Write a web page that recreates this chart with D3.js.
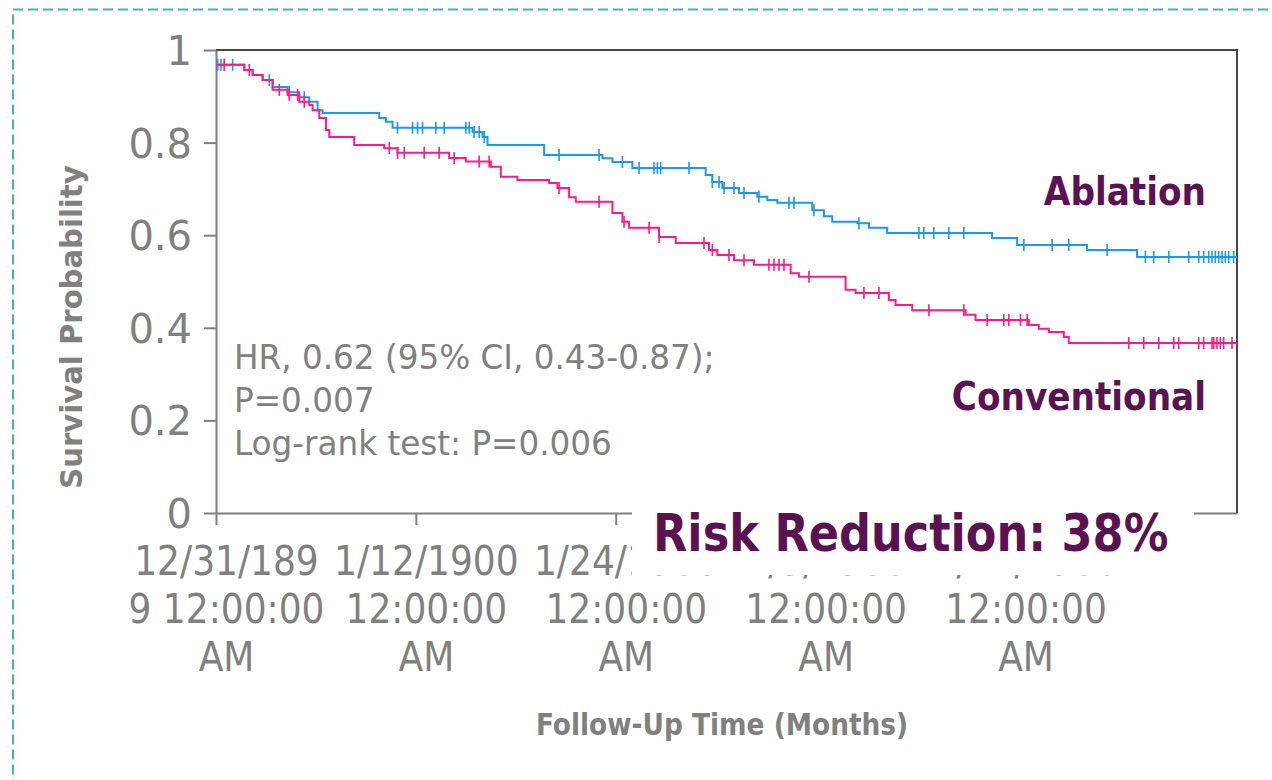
<!DOCTYPE html>
<html lang="en">
<head>
  <meta charset="UTF-8">
  <title>Survival Probability</title>
  <style>
    body { margin: 0; background: #fff; }
    svg text { font-family: "DejaVu Sans", Verdana, sans-serif; }
  </style>
</head>
<body>
  <div id="chart"></div>

  <script src="https://cdn.jsdelivr.net/npm/d3@7"></script>
  <script>

    // [month, survival] at each drop of the Kaplan-Meier curve
    const ablationSteps = [
      [0, 0.968], [1.7, 0.957], [2.2, 0.946], [2.8, 0.935], [3.4, 0.920],
      [4.3, 0.909], [5.0, 0.898], [5.6, 0.888], [6.1, 0.870], [6.4, 0.864],
      [9.8, 0.853], [10.2, 0.845], [10.6, 0.832], [15.4, 0.823], [16.0, 0.812],
      [16.3, 0.795], [19.7, 0.773], [23.2, 0.766], [23.8, 0.758], [25.0, 0.745],
      [29.4, 0.730], [29.8, 0.715], [30.4, 0.702], [31.4, 0.691], [32.5, 0.683],
      [33.1, 0.676], [33.7, 0.670], [35.8, 0.654], [36.5, 0.641], [37.0, 0.629],
      [38.5, 0.626], [39.2, 0.616], [40.3, 0.605], [46.6, 0.594], [48.1, 0.579],
      [52.3, 0.568], [55.3, 0.553]
    ];

    const conventionalSteps = [
      [0, 0.968], [1.7, 0.957], [2.2, 0.946], [2.8, 0.935], [3.4, 0.914],
      [4.3, 0.903], [5.0, 0.888], [5.6, 0.881], [5.8, 0.870], [6.2, 0.853],
      [6.6, 0.827], [6.8, 0.812], [8.3, 0.795], [10.1, 0.788], [10.9, 0.778],
      [14.0, 0.767], [15.0, 0.759], [16.5, 0.748], [17.1, 0.726], [18.1, 0.719],
      [20.0, 0.713], [20.5, 0.702], [21.2, 0.682], [21.6, 0.672], [23.8, 0.648],
      [24.4, 0.629], [24.8, 0.616], [26.6, 0.596], [27.6, 0.583], [29.6, 0.568],
      [30.1, 0.557], [31.1, 0.546], [32.3, 0.536], [34.5, 0.518], [35.0, 0.510],
      [37.8, 0.482], [38.4, 0.475], [40.4, 0.460], [40.8, 0.449], [41.8, 0.438],
      [45.0, 0.428], [45.6, 0.417], [48.8, 0.406], [49.4, 0.398], [50.0, 0.391],
      [50.9, 0.380], [51.2, 0.367]
    ];

    // censored observations (months)
    const ablationCensored = [
      0.1, 0.3, 0.5, 1.0, 3.2, 4.4, 5.3, 10.9, 11.8, 12.1, 12.4, 13.2, 13.7,
      15.0, 15.2, 15.5, 15.8, 16.1, 20.6, 23.0, 24.4, 25.4, 26.3, 26.5, 26.7,
      28.4, 29.8, 30.2, 30.5, 31.1, 31.7, 32.6, 34.4, 34.7, 35.9, 38.6, 42.2,
      42.5, 43.1, 44.0, 44.9, 48.5, 50.2, 51.2, 53.5, 55.8, 56.3, 57.2, 58.4,
      59.0, 59.3, 59.6, 59.8, 60.0, 60.2, 60.4, 60.6, 60.8, 61.1
    ];

    const conventionalCensored = [
      0.5, 2.0, 3.8, 4.4, 4.9, 5.3, 10.4, 10.9, 11.3, 12.5, 13.4, 14.3, 15.8,
      16.4, 20.6, 23.0, 24.5, 26.0, 26.6, 29.3, 29.8, 30.8, 31.7, 33.2, 33.5,
      33.8, 34.1, 35.6, 38.9, 39.8, 42.8, 44.9, 46.3, 47.3, 47.6, 48.3, 48.7,
      54.8, 55.7, 56.6, 57.5, 57.8, 59.0, 59.3, 59.8, 59.9, 60.1, 60.3, 60.5, 61.0
    ];

    const maxMonth = 61.3;
    const yTicks = [0, 0.2, 0.4, 0.6, 0.8, 1];
    const xTicks = [0, 12, 24, 36, 48];
    // Excel showed the month values as dates, wrapped on three lines
    const xTickLabels = [
      ["12/31/189", "9 12:00:00", "AM"],
      ["1/12/1900", "12:00:00", "AM"],
      ["1/24/1900", "12:00:00", "AM"],
      ["2/5/1900", "12:00:00", "AM"],
      ["2/17/1900", "12:00:00", "AM"]
    ];
    const statsLines = [
      "HR, 0.62 (95% CI, 0.43-0.87);",
      "P=0.007",
      "Log-rank test: P=0.006"
    ];

    const width = 1272,
          height = 780,
          margin = {top: 50, right: 35, bottom: 267, left: 216};

    const gray = "#808080",
          purple = "#5a1252",
          blue = "#1b98ef",
          pink = "#ff1a86",
          squeeze = 0.88;

    const svg = d3.select("#chart")
      .append("svg")
      .attr("width", width)
      .attr("height", height);

    // dashed slide frame
    svg.append("rect")
      .attr("x", 13).attr("y", 9.5)
      .attr("width", 1300).attr("height", 800)
      .attr("fill", "none")
      .attr("stroke", "#48b3b6")
      .attr("stroke-width", 2)
      .attr("stroke-dasharray", "10,5");

    const x = d3.scaleLinear([0, maxMonth], [margin.left, width - margin.right]);
    const y = d3.scaleLinear([0, 1], [height - margin.bottom, margin.top]);

    // y axis
    const yAxis = svg.append("g")
      .attr("transform", `translate(${margin.left},0)`)
      .call(d3.axisLeft(y).tickValues(yTicks).tickSize(12).tickSizeOuter(0)
        .tickFormat(d3.format("")));
    yAxis.select(".domain").attr("stroke", gray).attr("stroke-width", 2);
    yAxis.selectAll(".tick line").attr("stroke", gray).attr("stroke-width", 2);
    yAxis.selectAll(".tick text")
      .attr("x", -24)
      .attr("dy", "0.36em")
      .attr("fill", gray)
      .attr("font-size", 40)
      .attr("font-family", "DejaVu Sans");

    // x axis
    const xAxis = svg.append("g")
      .attr("transform", `translate(0,${height - margin.bottom})`)
      .call(d3.axisBottom(x).tickValues(xTicks).tickSize(12).tickSizeOuter(0)
        .tickFormat(""));
    xAxis.select(".domain").attr("stroke", gray).attr("stroke-width", 2);
    xAxis.selectAll(".tick line").attr("stroke", gray).attr("stroke-width", 2);

    xAxis.selectAll(".tick")
      .append("text")
      .attr("transform", "translate(10,0) scale(0.9,1)")
      .attr("fill", gray)
      .attr("font-size", 40)
      .attr("font-family", "DejaVu Sans")
      .attr("text-anchor", "middle")
      .selectAll("tspan")
      .data(d => xTickLabels[xTicks.indexOf(d)])
      .join("tspan")
      .attr("x", 0)
      .attr("y", (d, i) => 62 + i * 48)
      .text(d => d);

    // top and right border of the plot
    svg.append("path")
      .attr("d", `M${x(0)},${y(1)}H${x(maxMonth)}V${y(0)}`)
      .attr("fill", "none")
      .attr("stroke", "#474747")
      .attr("stroke-width", 2);

    const line = d3.line()
      .x(d => x(d[0]))
      .y(d => y(d[1]))
      .curve(d3.curveStepAfter);

    const survivalAt = (steps, t) =>
      steps[d3.bisector(d => d[0]).right(steps, t) - 1][1];

    const groups = [
      {steps: ablationSteps, censored: ablationCensored, color: blue},
      {steps: conventionalSteps, censored: conventionalCensored, color: pink}
    ];

    groups.forEach(g => {
      const pts = g.steps.concat([[maxMonth, g.steps[g.steps.length - 1][1]]]);
      svg.append("path")
        .datum(pts)
        .attr("d", line)
        .attr("fill", "none")
        .attr("stroke", g.color)
        .attr("stroke-width", 2);

      svg.append("g")
        .selectAll("line")
        .data(g.censored)
        .join("line")
        .attr("x1", d => x(d))
        .attr("x2", d => x(d))
        .attr("y1", d => y(survivalAt(g.steps, d)) - 6)
        .attr("y2", d => y(survivalAt(g.steps, d)) + 6)
        .attr("stroke", g.color)
        .attr("stroke-width", 1.6);
    });

    // hazard ratio note
    svg.append("g")
      .selectAll("text")
      .data(statsLines)
      .join("text")
      .attr("transform", (d, i) => `translate(234,${369 + i * 43}) scale(0.96,1)`)
      .attr("fill", gray)
      .attr("font-size", 34)
      .text(d => d);

    // group names
    svg.append("text")
      .attr("transform", `translate(1206,205) scale(${squeeze},1)`)
      .attr("text-anchor", "end")
      .attr("fill", purple)
      .attr("font-size", 39)
      .attr("font-weight", "bold")
      .text("Ablation");

    svg.append("text")
      .attr("transform", `translate(1206,410) scale(${squeeze},1)`)
      .attr("text-anchor", "end")
      .attr("fill", purple)
      .attr("font-size", 39)
      .attr("font-weight", "bold")
      .text("Conventional");

    // axis titles
    svg.append("text")
      .attr("transform", `translate(722,735) scale(${squeeze},1)`)
      .attr("text-anchor", "middle")
      .attr("fill", gray)
      .attr("font-size", 30)
      .attr("font-weight", "bold")
      .text("Follow-Up Time (Months)");

    svg.append("text")
      .attr("transform", "translate(82,327) rotate(-90) scale(0.97,1)")
      .attr("text-anchor", "middle")
      .attr("fill", gray)
      .attr("font-size", 30)
      .attr("font-weight", "bold")
      .text("Survival Probability");

    // callout box laid over the axis
    svg.append("rect")
      .attr("x", 632).attr("y", 500)
      .attr("width", 562).attr("height", 75)
      .attr("fill", "#fff");

    svg.append("text")
      .attr("transform", `translate(653,551) scale(0.875,1)`)
      .attr("fill", purple)
      .attr("font-size", 51)
      .attr("font-weight", "bold")
      .text("Risk Reduction: 38%");

  </script>
</body>
</html>
